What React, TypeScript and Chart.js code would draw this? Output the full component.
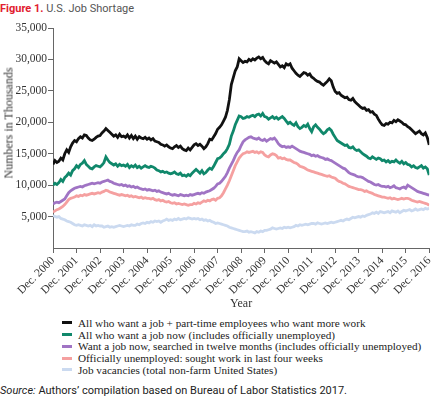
import React, { useEffect, useRef } from 'react';
import { Chart, registerables } from 'chart.js';

Chart.register(...registerables);

// Tick labels for the x axis (one per December)
const tickLabels = [
  'Dec. 2000', 'Dec. 2001', 'Dec. 2002', 'Dec. 2003', 'Dec. 2004', 'Dec. 2005',
  'Dec. 2006', 'Dec. 2007', 'Dec. 2008', 'Dec. 2009', 'Dec. 2010', 'Dec. 2011',
  'Dec. 2012', 'Dec. 2013', 'Dec. 2014', 'Dec. 2015', 'Dec. 2016',
];

const seriesNames = [
  'All who want a job + part-time employees who want more work',
  'All who want a job now (includes officially unemployed)',
  'Want a job now, searched in twelve months (includes officially unemployed)',
  'Officially unemployed: sought work in last four weeks',
  'Job vacancies (total non-farm United States)',
];

// Monthly values (thousands), Dec 2000 .. Dec 2016
const allWantPlusPartTime = [
  13300,
  13900, 13600, 13800, 14300, 14000, 15000, 15600, 15200, 16100, 16700, 17100, 16900,
  17400, 17700, 17500, 18000, 17900, 17500, 17200, 17100, 17300, 17600, 17800, 17900,
  18300, 18600, 19000, 18700, 18400, 18100, 17800, 18000, 17600, 18100, 17700, 17800,
  17600, 18000, 17500, 17900, 17400, 17800, 17300, 17700, 17500, 17400, 17600, 17300,
  17500, 17200, 17400, 17000, 16900, 16800, 16500, 16400, 16200, 16400, 16100, 15900,
  15800, 16100, 16300, 16000, 16200, 15800, 15600, 15500, 15900, 15600, 16000, 16400,
  16600, 16300, 16500, 16200, 15800, 16100, 16600, 17300, 17200, 17700, 18200, 18900,
  19200, 19600, 20200, 20800, 21900, 23600, 26000, 27100, 28200, 28800, 30100, 29800,
  29500, 29700, 29600, 30000, 29800, 30100, 29900, 30200, 30400, 30100, 30300, 29800,
  29500, 29300, 29800, 29600, 29400, 29600, 29200, 28800, 29000, 28700, 29300, 29100,
  29300, 28600, 28200, 27800, 27500, 27300, 27600, 27900, 27800, 27500, 27700, 27200,
  27000, 26700, 26500, 26400, 26100, 25900, 26200, 26500, 26900, 26600, 25600, 24900,
  24600, 24700, 24300, 24100, 23900, 24000, 23600, 23500, 23800, 23300, 23000, 22700,
  22400, 22200, 22300, 21900, 22000, 21600, 21700, 21300, 21100, 20500, 20000, 19600,
  19500, 19800, 19700, 20000, 19900, 20300, 20100, 20400, 20200, 20000, 19700, 19600,
  19300, 19100, 18800, 18500, 18200, 18400, 18600, 18200, 18000, 18300, 17600, 16400,
];

const allWantJobNow = [
  10000,
  10300, 10100, 10400, 10900, 10600, 11200, 11500, 11900, 11600, 12300, 12600, 13100,
  12800, 13300, 13500, 13900, 13300, 13000, 12700, 12600, 12900, 13100, 13000, 12900,
  13200, 13600, 14500, 14000, 13600, 13400, 13200, 13400, 13000, 13300, 13100, 13200,
  13000, 13300, 12800, 13100, 12900, 13200, 12800, 13000, 12700, 12900, 13100, 12900,
  12800, 13000, 12900, 12700, 12400, 12300, 12100, 12200, 12000, 12100, 11900, 11800,
  11900, 12100, 11800, 11700, 11900, 11500, 11600, 11400, 11700, 11500, 11900, 12200,
  12500, 12200, 11900, 12300, 11800, 12000, 12400, 12700, 12500, 13000, 13600, 14200,
  14300, 14600, 15000, 15300, 15800, 16500, 17800, 18600, 19600, 20300, 21000, 20900,
  20600, 20700, 20900, 20800, 21000, 21100, 20900, 21200, 21300, 21000, 21400, 20900,
  20800, 20500, 20700, 20900, 20600, 20800, 20500, 20700, 20900, 20600, 20200, 19800,
  20000, 19700, 19500, 19900, 19300, 19000, 19200, 19500, 19300, 19700, 19000, 18500,
  19300, 19600, 19200, 18900, 18500, 18200, 18400, 18800, 19000, 18700, 18100, 17600,
  17100, 16900, 16700, 16500, 16300, 16400, 16000, 15900, 16100, 15700, 15500, 15600,
  15300, 15000, 14800, 14600, 14300, 14200, 14500, 14300, 14100, 14300, 14200, 13900,
  14000, 13700, 13900, 13600, 13800, 13700, 14000, 13700, 13500, 13800, 13400, 13600,
  13300, 13200, 12900, 13100, 12800, 12700, 12900, 13100, 12700, 12900, 12600, 11600,
];

const wantJobSearched12 = [
  7000,
  7200, 7300, 7200, 7400, 7600, 7800, 8300, 8800, 9100, 9300, 9500, 9600,
  9700, 9800, 9700, 9900, 10000, 10100, 10200, 10300, 10200, 10300, 10400, 10300,
  10500, 10600, 10700, 10800, 10600, 10500, 10300, 10200, 10100, 10000, 10100, 9900,
  10000, 9800, 9900, 9700, 9800, 9600, 9700, 9500, 9400, 9300, 9400, 9200,
  9300, 9200, 9100, 9200, 9000, 9100, 8900, 8800, 8700, 8600, 8700, 8500,
  8400, 8500, 8400, 8300, 8500, 8400, 8300, 8400, 8300, 8500, 8400, 8500,
  8600, 8700, 8600, 8800, 8700, 8900, 9000, 9100, 9300, 9500, 9800, 10200,
  10300, 10600, 11000, 11400, 12000, 12700, 13300, 13900, 14600, 15200, 15600, 16300,
  16900, 17200, 17400, 17600, 17700, 17500, 17400, 17300, 17500, 17200, 17100, 17300,
  17000, 17200, 17400, 17300, 17500, 17100, 16600, 16300, 16100, 16200, 16000, 16100,
  16000, 16200, 16000, 15800, 15600, 15400, 15300, 15200, 15100, 15000, 14900, 14700,
  14800, 14600, 14700, 14500, 14400, 14300, 14100, 14200, 14000, 13900, 13700, 13500,
  13300, 13100, 12900, 12700, 12600, 12300, 12000, 11800, 11700, 11600, 11400, 11300,
  11300, 11200, 11000, 10800, 10600, 10500, 10300, 10100, 10000, 10100, 9900, 9800,
  9800, 9700, 9800, 9600, 9700, 9900, 9600, 9500, 9400, 9600, 9700, 9500,
  10000, 9800, 9600, 9400, 9200, 9000, 8900, 8800, 8700, 8600, 8500, 8400,
];

const officiallyUnemployed = [
  5700,
  5900, 6100, 6200, 6400, 6600, 6900, 7300, 7700, 7900, 8000, 8100, 8300,
  8200, 8400, 8300, 8500, 8400, 8500, 8600, 8700, 8600, 8700, 8800, 8700,
  8900, 9000, 9200, 9100, 8900, 8800, 8700, 8600, 8500, 8400, 8500, 8400,
  8300, 8400, 8200, 8300, 8100, 8200, 8100, 8000, 8100, 7900, 8000, 7900,
  7900, 7800, 7900, 7700, 7600, 7700, 7500, 7600, 7400, 7300, 7400, 7200,
  7100, 7200, 7000, 7100, 7000, 6900, 7000, 6900, 6800, 6900, 6900, 7100,
  7000, 7200, 7100, 7300, 7500, 7400, 7600, 7500, 7700, 7800, 7600, 7900,
  8000, 8300, 8800, 9400, 10000, 10700, 11500, 12300, 13100, 13700, 14300, 14700,
  15000, 15100, 15300, 15200, 15300, 15400, 15200, 15300, 15100, 15300, 15200, 14800,
  14600, 14500, 14800, 15000, 14900, 14700, 14300, 14400, 14200, 14300, 14100, 14000,
  14000, 13800, 13600, 13500, 13300, 13000, 12900, 12800, 12600, 12400, 12300, 12200,
  12100, 12000, 11900, 11800, 11700, 11600, 11500, 11400, 11500, 11300, 11200, 11100,
  10800, 10600, 10500, 10300, 10200, 10000, 9800, 9700, 9600, 9500, 9400, 9300,
  9300, 9200, 9000, 9100, 8900, 8800, 8700, 8500, 8400, 8300, 8200, 8100,
  8100, 8000, 7900, 8000, 7800, 7900, 7800, 7700, 7800, 7900, 7800, 7900,
  7900, 7800, 7600, 7500, 7400, 7300, 7400, 7300, 7200, 7100, 7000, 6800,
];

const jobVacancies = [
  5200,
  5000, 4900, 5000, 4700, 4600, 4500, 4300, 4200, 4100, 3900, 3700, 3600,
  3700, 3600, 3500, 3700, 3600, 3500, 3600, 3400, 3700, 3500, 3600, 3500,
  3500, 3300, 3400, 3500, 3300, 3400, 3300, 3400, 3500, 3600, 3500, 3400,
  3500, 3600, 3500, 3700, 3600, 3600, 3800, 3700, 3900, 4000, 3900, 4100,
  4000, 4200, 4100, 4300, 4200, 4300, 4100, 4300, 4400, 4600, 4400, 4500,
  4400, 4600, 4500, 4700, 4500, 4600, 4700, 4600, 4800, 4700, 4600, 4700,
  4600, 4700, 4500, 4600, 4400, 4500, 4300, 4400, 4200, 4100, 3900, 4000,
  3900, 3800, 3700, 3600, 3500, 3300, 3200, 3100, 3000, 2900, 2800, 2700,
  2600, 2600, 2700, 2500, 2600, 2500, 2400, 2600, 2500, 2700, 2600, 2800,
  2800, 2900, 3000, 3200, 3100, 3000, 3100, 3200, 3100, 3300, 3200, 3300,
  3200, 3300, 3400, 3600, 3500, 3700, 3600, 3700, 3800, 3700, 3800, 3900,
  3900, 3800, 4000, 3900, 3800, 3900, 4000, 3900, 4000, 4100, 4000, 4100,
  4200, 4300, 4400, 4300, 4500, 4600, 4500, 4700, 4900, 4800, 4900, 5000,
  4900, 5100, 5000, 5200, 5300, 5400, 5600, 5500, 5700, 5500, 5800, 5700,
  5600, 5700, 5800, 5600, 5900, 5800, 5700, 5900, 5600, 5800, 6000, 5900,
  6000, 6100, 5900, 6000, 6200, 6000, 6100, 6200, 6100, 6300, 6200, 6300,
];

const seriesValues = [
  allWantPlusPartTime,
  allWantJobNow,
  wantJobSearched12,
  officiallyUnemployed,
  jobVacancies,
];

const COLORS = ['#111111', '#10886b', '#a074c4', '#f5a0a0', '#cbdaf0'];
const SERIF = '"Liberation Serif", "Times New Roman", serif';
const SANS = 'Roboto, "Liberation Sans", Arial, sans-serif';

export default function App() {
  const canvasRef = useRef<HTMLCanvasElement | null>(null);

  useEffect(() => {
    const canvas = canvasRef.current;
    if (!canvas) return;
    const chart = new Chart(canvas, {
      type: 'line',
      data: {
        datasets: seriesValues.map((vals, si) => ({
          label: seriesNames[si],
          data: vals.map((v, i) => ({ x: i, y: v })),
          borderColor: COLORS[si],
          backgroundColor: COLORS[si],
          borderWidth: 2.8,
          pointRadius: 0,
          tension: 0,
          fill: false,
        })),
      },
      options: {
        responsive: false,
        animation: false,
        layout: { padding: { top: 28, left: 0, right: 3, bottom: 0 } },
        plugins: {
          legend: { display: false },
          tooltip: { enabled: false },
          title: { display: false },
        },
        scales: {
          x: {
            type: 'linear',
            min: 0,
            max: (tickLabels.length - 1) * 12,
            afterFit: (scale: any) => {
              scale.height = 64;
            },
            ticks: {
              stepSize: 12,
              autoSkip: false,
              minRotation: 45,
              maxRotation: 45,
              padding: 1,
              color: '#333',
              font: { family: SERIF, size: 11.5 },
              callback: (v: any) => tickLabels[Math.round(Number(v) / 12)] ?? '',
            },
            grid: {
              display: true,
              drawOnChartArea: false,
              drawTicks: true,
              tickLength: 5,
              color: '#666',
            },
            border: { display: true, color: '#666', width: 1 },
            title: {
              display: true,
              text: 'Year',
              color: '#333',
              font: { family: SERIF, size: 12 },
              padding: { top: 0, bottom: 1 },
            },
          },
          y: {
            min: 0,
            max: 35000,
            afterFit: (scale: any) => {
              scale.width = 53;
            },
            ticks: {
              stepSize: 5000,
              padding: 1,
              color: '#333',
              font: { family: SERIF, size: 11.5 },
              callback: (v: any) => (Number(v) === 0 ? '' : Number(v).toLocaleString('en-US')),
            },
            grid: {
              display: true,
              drawOnChartArea: false,
              drawTicks: true,
              tickLength: 5,
              color: (ctx: any) => (ctx.tick && ctx.tick.value === 0 ? 'rgba(0,0,0,0)' : '#666'),
            },
            border: { display: true, color: '#666', width: 1 },
          },
        },
      },
    });
    return () => chart.destroy();
  }, []);

  return (
    <div style={{ position: 'absolute', left: 0, top: 0, width: 440, height: 398, background: '#fff', overflow: 'hidden' }}>
      <div
        style={{
          position: 'absolute',
          left: 0,
          top: 2,
          fontFamily: SANS,
          fontSize: 11,
          lineHeight: '13px',
          whiteSpace: 'nowrap',
        }}
      >
        <span style={{ color: '#e2202f', fontWeight: 700 }}>Figure 1.</span>
        <span style={{ color: '#555' }}> U.S. Job Shortage</span>
      </div>
      <canvas ref={canvasRef} width={440} height={312} style={{ position: 'absolute', left: 0, top: 0 }} />
      <div
        style={{
          position: 'absolute',
          left: 8.5,
          top: 122.5,
          transform: 'translate(-50%, -50%) rotate(-90deg)',
          fontFamily: SERIF,
          fontSize: 12,
          color: '#333',
          whiteSpace: 'nowrap',
        }}
      >
        Numbers in Thousands
      </div>
      <div style={{ position: 'absolute', left: 62, top: 317, fontFamily: SERIF, fontSize: 11.2, color: '#222' }}>
        {seriesNames.map((name, i) => (
          <div key={name} style={{ display: 'flex', alignItems: 'center', height: 11.75, whiteSpace: 'nowrap' }}>
            <span style={{ display: 'inline-block', width: 10, height: 3, background: COLORS[i], marginRight: 6 }} />
            <span>{name}</span>
          </div>
        ))}
      </div>
      <div
        style={{
          position: 'absolute',
          left: 0,
          top: 384,
          fontFamily: SANS,
          fontSize: 11,
          color: '#222',
          whiteSpace: 'nowrap',
        }}
      >
        <span style={{ fontStyle: 'italic' }}>Source:</span> Authors’ compilation based on Bureau of Labor Statistics 2017.
      </div>
    </div>
  );
}
